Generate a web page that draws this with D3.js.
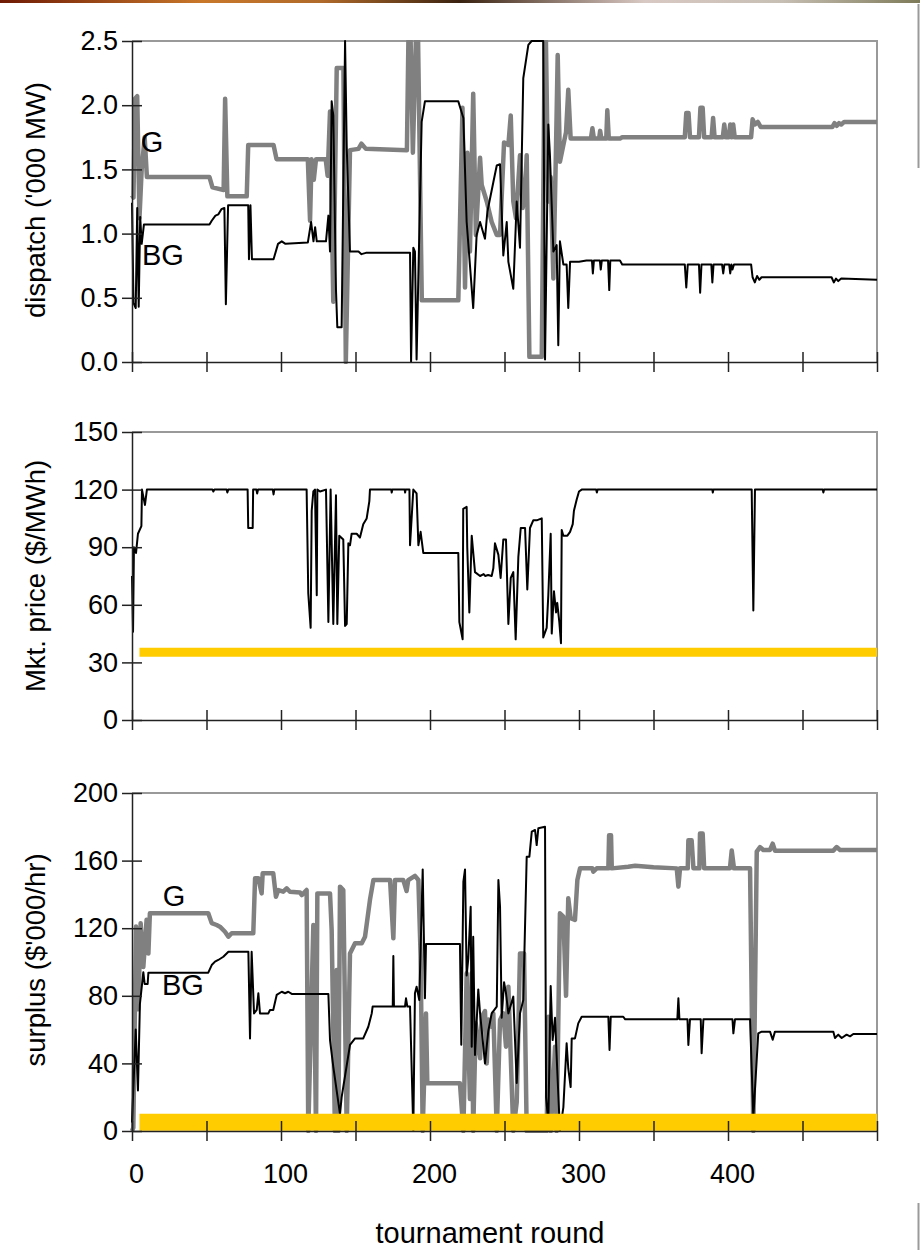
<!DOCTYPE html>
<html>
<head>
<meta charset="utf-8">
<script src="https://cdn.jsdelivr.net/npm/d3@7/dist/d3.min.js"></script>
<style>
  body { margin: 0; background: #fff; }
  text { font-family: "Liberation Sans", Arial, sans-serif; fill: #000; }
</style>
</head>
<body>
<script>
//tournament rounds on the x axis
var xTicks = [0, 50, 100, 150, 200, 250, 300, 350, 400, 450, 500];
var xLabels = [0, 100, 200, 300, 400];

//dispatch ('000 MW), [round, value]
var dispG = [[0,1.30],[1,1.28],[2,2.05],[3.5,2.07],[5,1.12],[6.5,1.5],[8.5,1.75],[10,1.44],[52,1.44],[54,1.36],[61.5,1.34],[62.5,2.05],[64,1.29],[77,1.29],[78,1.69],[95,1.69],[97,1.58],[118,1.58],[119.5,1.10],[120.5,1.58],[122,1.42],[123.5,1.58],[130,1.58],[131.3,1.45],[132.9,1.95],[135.1,0.47],[137.4,2.29],[141.9,2.29],[143.5,0.0],[146.3,1.65],[152,1.66],[154,1.70],[157,1.66],[184.5,1.65],[185.5,2.5],[187,2.5],[188.5,1.63],[190.5,2.5],[192,2.5],[194.5,0.48],[219,0.48],[221.8,1.98],[223.5,0.58],[225.1,1.63],[226.8,0.86],[229,2.09],[230.8,0.99],[233.6,1.59],[234.7,1.38],[238.1,1.25],[241.4,1.09],[244.8,0.99],[247,0.99],[249.7,1.71],[252.6,1.69],[254.2,1.92],[255.9,1.25],[257.7,1.12],[260.4,1.61],[262.2,1.20],[263.8,1.33],[264.9,1.61],[266.7,0.04],[275,0.04],[277,2.5],[277.8,2.5],[279.4,1.25],[281,1.44],[282.8,0.65],[284.6,1.69],[285.7,2.39],[287.2,1.56],[289.5,1.69],[291.3,1.79],[292.8,2.12],[294.4,1.74],[308,1.74],[309,1.82],[310,1.74],[313.5,1.74],[314.2,1.80],[315,1.74],[318.3,1.74],[319,1.96],[320,1.74],[327.5,1.74],[329,1.75],[371,1.75],[372,1.94],[373.5,1.94],[374.5,1.75],[380.5,1.75],[381.5,1.98],[383,1.98],[384,1.75],[389,1.75],[390,1.90],[391,1.75],[396.5,1.75],[397.5,1.85],[398.5,1.75],[400.5,1.75],[401.5,1.85],[402.5,1.75],[403.5,1.85],[404.5,1.75],[415.5,1.75],[416.5,1.89],[418,1.85],[420,1.87],[422,1.83],[470,1.83],[471.5,1.86],[473,1.84],[474.5,1.86],[476,1.85],[478,1.87],[500,1.87]];
var dispBG = [[0,1.24],[1,0.46],[2.5,0.42],[3.5,1.20],[4.5,0.43],[5.5,1.13],[6.5,0.92],[8,1.07],[52,1.07],[53.5,1.10],[56,1.14],[58,1.15],[60,1.19],[62,1.20],[63,0.45],[64.5,1.22],[78,1.22],[78.5,0.80],[79.5,1.22],[80.5,0.80],[95,0.80],[98,0.92],[100.5,0.94],[103,0.92],[118,0.93],[120.2,1.09],[121.8,0.94],[122.9,1.05],[124,0.94],[130.2,0.94],[131.8,1.14],[132.9,0.86],[134,2.03],[135.1,1.92],[136.9,0.56],[137.8,0.27],[140.7,0.27],[143,2.5],[144.1,1.68],[146.3,0.86],[152,0.86],[154,0.84],[157,0.85],[186.6,0.85],[187.3,0.0],[188.8,0.89],[189.9,0.86],[191,0.02],[194.4,1.87],[196.6,2.03],[219,2.03],[222.4,1.90],[224.6,1.09],[229,0.42],[231.3,0.99],[233.6,1.09],[236.9,0.96],[238.5,1.17],[242.5,1.40],[244.8,1.53],[247,1.54],[249.2,0.83],[251.5,1.09],[252.6,0.78],[255.9,0.57],[258.2,1.25],[260.4,0.89],[262.6,2.21],[266,2.47],[268.2,2.5],[276,2.5],[277.2,0.02],[279.4,1.85],[280.5,1.61],[282.8,0.86],[285,0.91],[286.1,0.13],[287.2,0.94],[289.5,0.76],[291.7,0.76],[292.8,0.42],[294,0.78],[300,0.78],[305,0.79],[308.7,0.79],[309.3,0.69],[310,0.79],[314,0.79],[314.6,0.72],[315.3,0.79],[319.5,0.79],[320.3,0.56],[321,0.79],[327.5,0.79],[329,0.76],[371,0.76],[372,0.58],[373,0.76],[380.5,0.76],[381.3,0.54],[382.2,0.76],[388.8,0.76],[389.5,0.62],[390.3,0.76],[396,0.76],[396.8,0.69],[397.6,0.76],[400.8,0.76],[401.5,0.69],[402.3,0.76],[403,0.72],[404,0.76],[415.5,0.76],[416.5,0.66],[418,0.62],[419.5,0.67],[421,0.64],[422.5,0.66],[469.5,0.66],[471,0.62],[472.5,0.65],[474,0.63],[476,0.65],[500,0.64]];

//market price ($/MWh), [round, value]
var priceMkt = [[0,75],[0.7,46],[1.3,90],[2.7,87],[4,97],[6.3,101],[6.7,120],[8.7,112],[10,120],[54,120],[54.6,119],[55.3,120],[63.5,120],[64,118.5],[64.6,120],[77.6,120],[78,100],[81,100],[81.3,120],[83.5,120],[84,118],[84.6,120],[94.5,120],[95,117.5],[95.5,120],[117.2,120],[118.3,66],[119.9,48],[120.6,109],[121.7,119],[122.8,120],[124,65],[124.4,120],[126.2,119],[130.2,120],[131.8,51],[133.3,120],[135.1,50],[136.9,117],[137.8,50],[139.1,96],[141.8,94],[143,49],[144.1,50],[145.2,92],[146.3,91],[147.4,97],[150.8,97],[153,95],[155.2,102],[157.5,105],[159.3,114],[159.7,120],[174,120],[174.3,118.5],[174.7,120],[183,120],[183.3,118.5],[183.6,120],[186.2,120],[186.6,91],[188.8,120],[191,118],[192.2,91],[193.7,98],[195.5,87],[219,87],[219.7,51],[221.9,42],[222.3,110],[224.6,111],[225,90],[226.4,56],[228,96],[230.2,77],[233.6,75],[236,76],[237,75],[239,75.5],[241.4,75],[242.5,79],[243.6,92],[245.9,86],[247.4,74],[249.2,94],[251,94],[252.6,50],[254.2,74],[255.9,77],[257.5,42],[259.3,85],[260.9,100],[263.8,100],[265.3,68],[267.1,100],[269.3,104],[271.6,104],[275,105],[276,43],[278.3,48],[279.4,65],[281,97],[281.7,45],[283.2,67],[284.6,56],[285.4,61],[286.8,51],[287.9,40],[288.4,99],[289.5,96],[292.2,96],[294,98],[295.8,102],[296.6,109],[298.5,115],[300,119],[301.8,120],[311.5,120],[312,118.5],[312.5,120],[389.5,120],[389.8,118.5],[390.2,120],[415.9,120],[417,57],[418.1,120],[463.6,120],[464,118.5],[464.5,120],[500,120]];
var compPrice = [[5,35.3],[500,35.3]];

//surplus ($'000/hr), [round, value]
var surpG = [[0,0],[0.9,2],[2.7,121],[4.2,72],[5.8,123],[7.6,97],[9.8,125],[11,105],[12,128.8],[51.2,128.8],[53.5,123],[56.8,121.9],[59,120.9],[62.4,117.9],[64.7,115],[66.9,117],[81.4,117],[82.6,149.5],[84.8,149.5],[87,140.6],[87.7,152.5],[94.8,152.5],[96.6,138.6],[98.2,142.6],[101.5,141.6],[103.8,143.6],[106,141.6],[112.8,141.1],[113.9,139.6],[117.2,142.6],[118.3,0],[121.7,121.9],[123.5,0],[124.4,140.6],[132.9,140.6],[134,118.9],[136.2,0],[137.4,95.3],[138.5,0],[139.6,144.6],[141.8,142.6],[144.1,0],[146.3,105],[149.7,111.1],[154.2,111.1],[156.4,115],[159.7,136.7],[162,148.5],[173.2,148.5],[175.4,114],[176.5,148.5],[182.1,148.5],[184.3,142],[185.4,148.5],[189.9,151],[192.2,148.5],[193.7,103.6],[195.1,0],[197.3,69.6],[198.2,28.2],[220.1,28.2],[222.4,0],[224.6,93.3],[226.8,19],[228,93.3],[229,0],[230.7,63.7],[233.6,43],[234.7,67.6],[236.9,71],[238.1,40],[239.1,66],[241.4,61.7],[242.5,69.6],[244.8,0],[247,65.7],[249.2,69.6],[251,49.9],[252.6,85.4],[255.9,0],[258.2,17],[260.4,105.1],[263.1,105.1],[264.9,0],[278.3,0],[279.4,67.6],[281,0],[282.8,28.2],[283.9,49.9],[285,0],[287.2,128.8],[289.5,126.8],[291.3,80],[292.8,137.7],[294.4,126],[297.3,124.9],[298.9,148.5],[300.7,155.4],[309,155.4],[309.6,153.4],[311.9,155.4],[319.7,155.4],[320.2,175],[321.5,175],[322,155.4],[333,156.4],[337.7,157],[350,156],[365.6,155.4],[366.7,144.6],[367.8,155.4],[373,155.4],[373.4,172],[375.6,172],[376.8,155.4],[380.8,155.4],[381.2,176],[383,176],[384,155.4],[401.3,155.4],[402.5,166],[404,155.4],[414.8,155.4],[417,0],[419.3,165.3],[421.5,168],[423.7,166.3],[428.2,166.3],[430,170],[431.5,165.9],[470.7,165.9],[472.9,168],[475.2,166.3],[500,166.3]];
var surpBG = [[0,5],[2.5,60],[4,24],[5.3,75],[7.6,94],[8.5,87],[10.5,87],[11,93.7],[51.2,93.7],[53.5,98.2],[55.7,100.2],[57.9,101.2],[61.3,103.1],[64.7,106.1],[78.1,106.1],[79.2,54.8],[80.3,106.1],[81.9,69.6],[83.7,71.6],[84.8,81.5],[85.9,69.6],[91.5,69.6],[92.6,71.6],[94.8,71.6],[97.1,80.5],[100.5,82.4],[102.7,81.5],[104.9,82.4],[107.2,81.1],[131.8,81.1],[132.9,53.8],[135.1,38],[139.6,10],[140.7,20],[146.3,50.9],[149.7,54.8],[155.2,54.8],[158.6,61.7],[160.9,69.6],[161.5,73.6],[175,73.6],[175.4,103.6],[175.8,73.6],[183.2,73.6],[183.9,78.5],[184.8,73.6],[186.6,73.6],[188.8,0],[189.9,81.5],[191,85.4],[192.8,77.5],[195.1,154.8],[196.6,78.5],[197.3,110.7],[220.1,110.7],[221,51],[222.4,147.5],[223.5,154.8],[224.6,92],[225.7,102],[227.3,132.7],[228,49.9],[229,115],[230.2,45],[232.4,83.8],[233.6,69.6],[235.8,49.9],[236.9,40],[239.1,59],[241.4,69.6],[244.8,73.6],[245.9,148.5],[247,132.7],[248.1,67],[249.7,88],[251,81.5],[252.6,69.6],[255.9,79.5],[258.2,28.4],[260.4,69.6],[262.6,77.5],[264.9,162.3],[266.7,162.3],[268.3,177.1],[270.5,178.1],[271.6,169.2],[272.7,179.1],[277.2,180],[277.9,20],[279.4,5],[281,85.8],[282.3,53.8],[283.9,67],[285.4,36],[287.2,0],[289.5,14],[291.7,51.9],[292.8,37],[294.4,26],[295.1,54.8],[297.3,54.8],[299.5,63.7],[301.8,67.6],[319.7,67.6],[320.5,48],[321.3,67.6],[329.7,67.6],[331,66.1],[366,66.1],[366.7,78.5],[367.4,66.1],[372.8,66.1],[373.4,50.9],[374.5,66.1],[381.7,66.1],[382.3,46],[383.5,66.1],[403,66.1],[403.6,57.8],[404.7,66.1],[414.8,66.1],[417,8],[420.3,57.8],[422.6,58.8],[428.2,58.8],[430,54],[431.5,58.8],[470.7,58.8],[471.8,55],[474,57],[476.3,55],[479.6,57],[481.9,56],[484.1,57.4],[500,57.4]];
var compSurplus = [[5,5.2],[500,5.2]];

//y tick values for the three panels
var dispTicks = [0, 0.5, 1.0, 1.5, 2.0, 2.5];
var priceTicks = [0, 30, 60, 90, 120, 150];
var surpTicks = [0, 40, 80, 120, 160, 200];

//page frame
var width = 920,
    height = 1250,
    left = 132,
    right = 877;

var svg = d3.select("body")
  .append("svg")
  .attr("width", width)
  .attr("height", height);

//thin coloured strip along the top edge
var grad = svg.append("defs").append("linearGradient")
  .attr("id", "strip");
[["0%","#6e1a05"],["22%","#c9782a"],["35%","#b06a2a"],["50%","#3a2210"],["70%","#d9c9c4"],["85%","#c7bfb4"],["100%","#7d7a58"]].forEach(function(s){
  grad.append("stop").attr("offset", s[0]).attr("stop-color", s[1]);
});
svg.append("rect")
  .attr("x", 0).attr("y", 0)
  .attr("width", width).attr("height", 3)
  .attr("fill", "url(#strip)");

//stray frame edges at the right margin
svg.append("line").attr("x1", 918.5).attr("x2", 918.5).attr("y1", 4).attr("y2", 168)
  .attr("stroke", "#9a9a9a").attr("stroke-width", 2);
svg.append("line").attr("x1", 918.5).attr("x2", 918.5).attr("y1", 1203).attr("y2", 1250)
  .attr("stroke", "#9a9a9a").attr("stroke-width", 2);

var x = d3.scaleLinear().domain([0, 500]).range([left, right]);

var panels = [
  {top: 41, bottom: 362, max: 2.5, ticks: dispTicks, fmt: d3.format(".1f"),
   title: "dispatch ('000 MW)", titleY: 200,
   lines: [{data: dispG, color: "#808080", w: 4.5}, {data: dispBG, color: "#000", w: 2}],
   labels: [{t: "G", r: 13.4, v: 1.71}, {t: "BG", r: 20.8, v: 0.83}]},
  {top: 432, bottom: 720, max: 150, ticks: priceTicks, fmt: d3.format("d"),
   title: "Mkt. price ($/MWh)", titleY: 576,
   lines: [{data: priceMkt, color: "#000", w: 2}, {data: compPrice, color: "#ffcc00", w: 9}],
   labels: []},
  {top: 793, bottom: 1131, max: 200, ticks: surpTicks, fmt: d3.format("d"),
   title: "surplus ($'000/hr)", titleY: 960,
   lines: [{data: surpG, color: "#808080", w: 4.5}, {data: surpBG, color: "#000", w: 2}, {data: compSurplus, color: "#ffcc00", w: 17}],
   labels: [{t: "G", r: 28.2, v: 139}, {t: "BG", r: 34.2, v: 86.4}]}
];

panels.forEach(function(p, i){
  var y = d3.scaleLinear().domain([0, p.max]).range([p.bottom, p.top]);
  var g = svg.append("g").attr("class", "panel");

  //clip so the series stop at the frame like the spreadsheet did
  svg.select("defs").append("clipPath").attr("id", "clip" + i)
    .append("rect")
    .attr("x", left - 3).attr("y", p.top - 1)
    .attr("width", right - left + 6).attr("height", p.bottom - p.top + 3);

  //grey top and right frame
  g.append("path")
    .attr("d", "M" + left + "," + p.top + "H" + right + "V" + p.bottom)
    .attr("fill", "none").attr("stroke", "#999").attr("stroke-width", 2);

  var line = d3.line()
    .x(function(d){ return x(d[0]); })
    .y(function(d){ return y(Math.min(d[1], p.max)); });

  g.append("g").attr("clip-path", "url(#clip" + i + ")")
    .selectAll("path")
    .data(p.lines)
    .enter()
    .append("path")
    .attr("d", function(d){ return line(d.data); })
    .attr("fill", "none")
    .attr("stroke", function(d){ return d.color; })
    .attr("stroke-width", function(d){ return d.w; })
    .attr("stroke-linejoin", "round");

  //left axis with ticks crossing the line
  var yAxis = g.append("g")
    .attr("transform", "translate(" + left + ",0)")
    .call(d3.axisLeft(y).tickValues(p.ticks).tickFormat(p.fmt).tickSizeInner(10).tickSizeOuter(0).tickPadding(4));
  yAxis.selectAll(".tick line").attr("x1", 10);
  yAxis.selectAll("text").style("font-size", "27px");

  //bottom axis, labels only on the last panel
  var xAxis = g.append("g")
    .attr("transform", "translate(0," + p.bottom + ")")
    .call(d3.axisBottom(x).tickValues(xTicks).tickSizeInner(10).tickSizeOuter(0).tickPadding(23)
      .tickFormat(function(d){ return (i == 2 && xLabels.indexOf(d) >= 0) ? d : ""; }));
  xAxis.selectAll(".tick line").attr("y1", -10);
  xAxis.selectAll("text").style("font-size", "27px").attr("dx", "4");

  g.selectAll(".domain, .tick line").attr("stroke", "#222").attr("stroke-width", 1.5);

  //rotated axis title
  g.append("text")
    .attr("transform", "translate(35," + p.titleY + ") rotate(-90)")
    .attr("text-anchor", "middle")
    .attr("dominant-baseline", "central")
    .style("font-size", "27.5px")
    .text(p.title);

  //series names written inside the plot
  g.selectAll(".name")
    .data(p.labels)
    .enter()
    .append("text")
    .attr("class", "name")
    .attr("x", function(d){ return x(d.r); })
    .attr("y", function(d){ return y(d.v); })
    .attr("text-anchor", "middle")
    .attr("dominant-baseline", "central")
    .style("font-size", "29px")
    .text(function(d){ return d.t; });
});

//x axis title
svg.append("text")
  .attr("x", 490).attr("y", 1233)
  .attr("text-anchor", "middle")
  .attr("dominant-baseline", "central")
  .style("font-size", "29px")
  .text("tournament round");
</script>
</body>
</html>
